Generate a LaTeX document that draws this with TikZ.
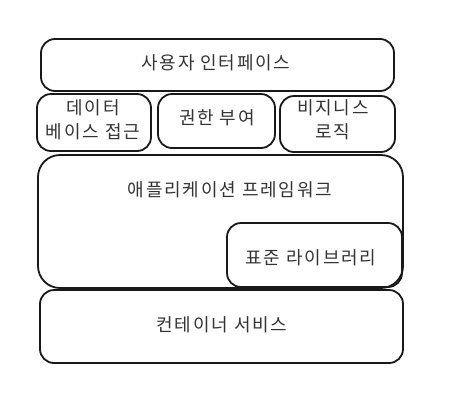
\documentclass[tikz,border=0pt]{standalone}
\usepackage{fontspec}
\setmainfont{Noto Sans CJK KR}[LetterSpace=10]
\begin{document}
\begin{tikzpicture}[x=1pt,y=-1pt,
  box/.style={draw=black!90, line width=1.8pt, rounded corners=14pt},
  lbl/.style={font=\fontsize{18}{24}\selectfont, text=black!80, align=center}]
\useasboundingbox (0,0) rectangle (465,413);
\draw[box] (41,39) rectangle (394,91);
\node[lbl] (ui) at (216,63) {사용자 인터페이스};
\draw[box] (37,94) rectangle (151,151);
\node[lbl] (db) at (93,120) {데이터\\베이스 접근};
\draw[box] (158,94) rectangle (275,148);
\node[lbl] (auth) at (217,118) {권한 부여};
\draw[box] (280,96) rectangle (395,152);
\node[lbl] (biz) at (333,120) {비지니스\\로직};
\draw[box, rounded corners=22pt] (38,155) rectangle (403,288);
\node[lbl] (app) at (230,190) {애플리케이션 프레임워크};
\draw[box] (227,223) rectangle (402,287);
\node[lbl] (std) at (311,258) {표준 라이브러리};
\draw[box] (40,290) rectangle (403,363);
\node[lbl] (cont) at (222,325) {컨테이너 서비스};
\end{tikzpicture}
\end{document}
